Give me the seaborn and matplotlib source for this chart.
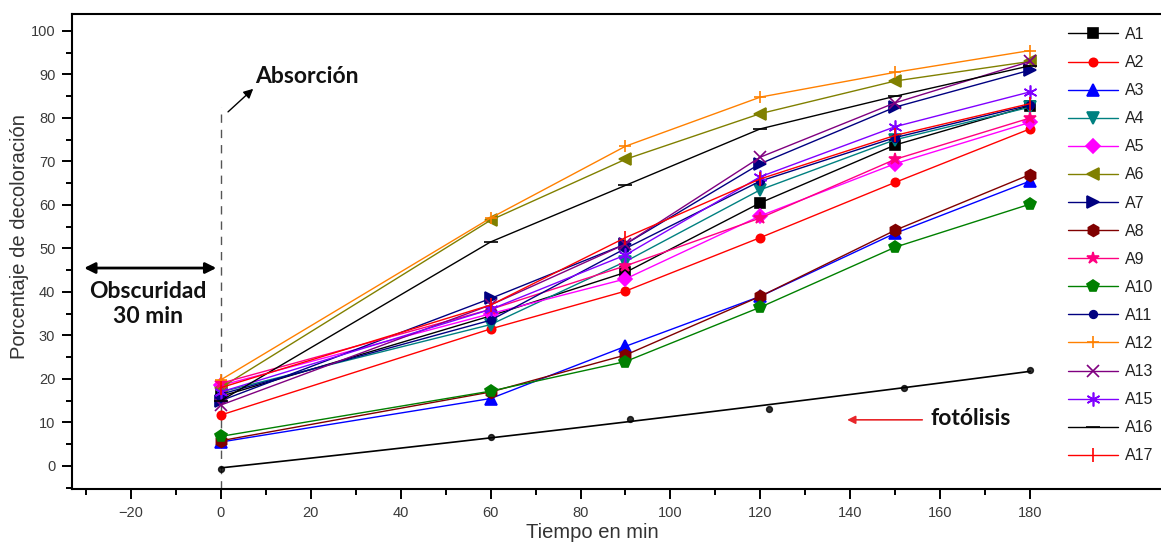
import numpy as np
import pandas as pd
import matplotlib
matplotlib.use("Agg")
import matplotlib.pyplot as plt
from matplotlib.ticker import FixedLocator
import seaborn as sns

# Sampling times (min) and decolouration (%) for each sample
tiempo = [0, 60, 90, 120, 150, 180]

A1 = [16.0, 34.5, 44.5, 60.5, 73.8, 82.8]
A2 = [11.7, 31.5, 40.2, 52.5, 65.2, 77.5]
A3 = [5.5, 15.5, 27.5, 39.0, 53.5, 65.5]
A4 = [17.0, 32.5, 47.0, 63.5, 75.0, 82.5]
A5 = [18.5, 35.0, 43.0, 57.5, 69.5, 79.0]
A6 = [18.0, 56.5, 70.5, 81.0, 88.5, 93.0]
A7 = [15.0, 38.5, 51.0, 69.5, 82.5, 91.0]
A8 = [5.8, 17.0, 25.5, 39.0, 54.2, 67.0]
A9 = [19.0, 36.0, 46.0, 57.0, 70.5, 80.0]
A10 = [6.8, 17.2, 24.0, 36.5, 50.3, 60.2]
A11 = [16.5, 33.5, 50.0, 65.5, 75.5, 83.0]
A12 = [19.8, 57.0, 73.5, 84.8, 90.5, 95.5]
A13 = [14.0, 37.0, 51.0, 71.0, 83.5, 93.0]
A15 = [17.0, 36.0, 48.5, 66.5, 78.0, 86.0]
A16 = [15.0, 51.5, 64.5, 77.5, 85.0, 92.0]
A17 = [18.0, 37.0, 52.5, 66.0, 76.0, 83.3]

# Photolysis control (no catalyst)
tiempo_fotolisis = [0, 60, 91, 122, 152, 180]
fotolisis = [-0.6, 6.7, 10.8, 13.2, 18.0, 22.0]

muestras = ["A1", "A2", "A3", "A4", "A5", "A6", "A7", "A8", "A9", "A10",
            "A11", "A12", "A13", "A15", "A16", "A17"]
valores = [A1, A2, A3, A4, A5, A6, A7, A8, A9, A10,
           A11, A12, A13, A15, A16, A17]

colores = ["#000000", "#ff0000", "#0000ff", "#008080", "#ff00ff", "#808000",
           "#000080", "#800000", "#ff0080", "#008000", "#000080", "#ff8000",
           "#800080", "#8000ff", "#000000", "#ff0000"]
marcadores = ["s", "o", "^", "v", "D", "<", ">", "h", "*", "p",
              "o", "+", "x", (6, 2, 0), "_", "|"]
tamanos = [7, 6, 8, 8, 7, 8, 8, 8.5, 9, 8.5, 5.5, 9, 9, 10, 10, 10]

df = pd.DataFrame({
    "Tiempo": np.tile(tiempo, len(muestras)),
    "Valor": np.concatenate(valores),
    "Muestra": np.repeat(muestras, len(tiempo)),
})

sns.set_theme(style="white")
plt.rcParams["font.family"] = ["Liberation Sans", "DejaVu Sans"]

fig = plt.figure(figsize=(11.61, 5.44), dpi=100)
ax = fig.add_axes([72 / 1161, 1 - 489 / 544, 1 - 72 / 1161, (489 - 14) / 544])

for nombre, col, mk, ms in zip(muestras, colores, marcadores, tamanos):
    sub = df[df["Muestra"] == nombre]
    sns.lineplot(data=sub, x="Tiempo", y="Valor", ax=ax, color=col,
                 marker=mk, markersize=ms, markeredgecolor=col,
                 markeredgewidth=1.2, linewidth=1.0, label=nombre,
                 sort=True)

# Photolysis points with a second-order fitted trend
sns.regplot(x=np.array(tiempo_fotolisis), y=np.array(fotolisis), ax=ax,
            order=2, ci=None, truncate=True,
            scatter_kws=dict(s=18, color="black", zorder=5),
            line_kws=dict(color="black", lw=1.2))

ax.set_xlim(-33.1, 209.1)
ax.set_ylim(-5.3, 103.9)

ax.xaxis.set_major_locator(FixedLocator(np.arange(-20, 181, 20)))
ax.xaxis.set_minor_locator(FixedLocator(np.arange(-30, 181, 20)))
ax.yaxis.set_major_locator(FixedLocator(np.arange(0, 101, 10)))
ax.yaxis.set_minor_locator(FixedLocator(np.arange(-5, 101, 10)))

ax.tick_params(axis="both", which="major", direction="out", length=7,
               width=1.4, labelsize=10.5, labelcolor="#3a3a3a",
               color="black", bottom=True, left=True, pad=5)
ax.tick_params(axis="both", which="minor", direction="out", length=4,
               width=1.4, color="black", bottom=True, left=True)

for side in ["left", "bottom", "top"]:
    ax.spines[side].set_visible(True)
    ax.spines[side].set_color("black")
    ax.spines[side].set_linewidth(1.5)
ax.spines["right"].set_visible(False)

ax.set_xlabel("Tiempo en min", fontsize=14.5, color="#333333")
ax.set_ylabel("Porcentaje de decoloración", fontsize=14.5, color="#333333")
ax.xaxis.set_label_coords((592 - 72) / 1089, -(532 - 489) / 475)
ax.yaxis.set_label_coords(-(52) / 1089, (489 - 237) / 475)
ax.xaxis.label.set_va("center")
ax.yaxis.label.set_va("center")

# Dark phase marker and annotations
notas = dict(fontsize=16.5, fontweight="bold", family=["Lato", "DejaVu Sans"],
             color="#111111", va="center")
ax.plot([0, 0], [-5.3, 82.5], color="#555555", lw=1.0, ls=(0, (6, 5)),
        zorder=1)
ax.annotate("", xy=(7.2, 86.7), xytext=(1.6, 81.4),
            arrowprops=dict(arrowstyle="-|>", color="black", lw=1.0,
                            mutation_scale=14, shrinkA=0, shrinkB=0))
ax.text(7.6, 89.6, "Absorción", ha="left", **notas)
ax.annotate("", xy=(-30.4, 45.5), xytext=(-1.0, 45.5),
            arrowprops=dict(arrowstyle="<|-|>", color="black", lw=2.0,
                            mutation_scale=16, shrinkA=0, shrinkB=0))
ax.text(-16.2, 37.2, "Obscuridad\n30 min", ha="center", linespacing=1.2,
        **notas)
ax.annotate("", xy=(139.3, 10.6), xytext=(156.0, 10.6),
            arrowprops=dict(arrowstyle="-|>", color="#e8262a", lw=1.2,
                            mutation_scale=12, shrinkA=0, shrinkB=0))
ax.text(157.8, 11.0, "fotólisis", ha="left", **notas)

leg = ax.legend(loc="upper left", bbox_to_anchor=(1068 / 1161, 1 - 27 / 544),
                bbox_transform=fig.transFigure, frameon=False, fontsize=11.5,
                handlelength=3.1, handletextpad=0.45, labelspacing=0.82,
                borderpad=0, borderaxespad=0, numpoints=1)
for t in leg.get_texts():
    t.set_color("#222222")

fig.savefig("out.png", dpi=100)
